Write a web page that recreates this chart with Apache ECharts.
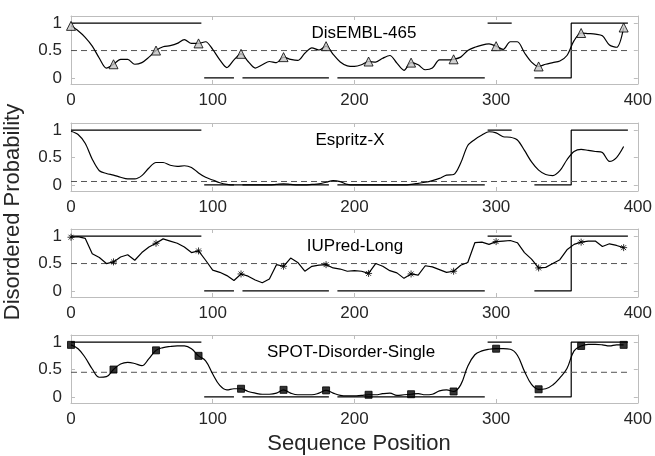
<!DOCTYPE html>
<html>
<head>
<meta charset="utf-8">
<script src="https://cdn.jsdelivr.net/npm/echarts@6/dist/echarts.min.js"></script>
<style>
  html, body { margin: 0; padding: 0; background: #fff; }
  #chart { width: 655px; height: 456px; }
</style>
</head>
<body>
<div id="chart"></div>
<script>
const positions = [0, 5, 10, 15, 20, 25, 30, 35, 40, 45, 50, 55, 60, 65, 70, 75, 80, 85, 90, 95,
  100, 105, 110, 115, 120, 125, 130, 135, 140, 145, 150, 155, 160, 165, 170, 175, 180, 185, 190, 195,
  200, 205, 210, 215, 220, 225, 230, 235, 240, 245, 250, 255, 260, 265, 270, 275, 280, 285, 290, 295,
  300, 305, 310, 315, 320, 325, 330, 335, 340, 345, 350, 355, 360, 365, 370, 375, 380, 385, 390];

const disemblProb = [0.95, 0.86, 0.74, 0.58, 0.36, 0.18, 0.25, 0.34, 0.34, 0.25,
  0.28, 0.38, 0.50, 0.57, 0.59, 0.63, 0.70, 0.63, 0.63, 0.66,
  0.52, 0.33, 0.19, 0.33, 0.44, 0.30, 0.18, 0.24, 0.30, 0.28,
  0.38, 0.34, 0.32, 0.45, 0.55, 0.51, 0.58, 0.43, 0.29, 0.22,
  0.21, 0.24, 0.30, 0.29, 0.36, 0.41, 0.27, 0.14, 0.28, 0.24,
  0.15, 0.18, 0.33, 0.33, 0.34, 0.38, 0.50, 0.56, 0.60, 0.62,
  0.58, 0.52, 0.66, 0.66, 0.46, 0.29, 0.21, 0.25, 0.28, 0.31,
  0.41, 0.68, 0.82, 0.81, 0.80, 0.77, 0.60, 0.56, 0.92];

const espritzProb = [0.98, 0.92, 0.76, 0.47, 0.26, 0.21, 0.18, 0.14, 0.11, 0.11,
  0.17, 0.31, 0.41, 0.41, 0.36, 0.34, 0.35, 0.32, 0.22, 0.14,
  0.09, 0.04, 0.01, 0.00, 0.00, 0.00, 0.00, 0.00, 0.00, 0.01,
  0.02, 0.01, 0.00, 0.00, 0.01, 0.02, 0.05, 0.08, 0.06, 0.01,
  0.00, 0.00, 0.00, 0.00, 0.00, 0.00, 0.00, 0.00, 0.01, 0.03,
  0.05, 0.08, 0.12, 0.18, 0.19, 0.40, 0.72, 0.83, 0.91, 0.97,
  0.95, 0.88, 0.87, 0.82, 0.63, 0.42, 0.27, 0.19, 0.17, 0.26,
  0.46, 0.61, 0.65, 0.63, 0.61, 0.59, 0.43, 0.50, 0.70];

const iupredProb = [0.98, 0.99, 0.96, 0.68, 0.61, 0.50, 0.53, 0.62, 0.66, 0.56,
  0.70, 0.80, 0.87, 0.95, 0.91, 0.87, 0.80, 0.70, 0.73, 0.56,
  0.38, 0.34, 0.28, 0.19, 0.31, 0.27, 0.20, 0.15, 0.22, 0.48,
  0.45, 0.60, 0.52, 0.36, 0.45, 0.47, 0.48, 0.42, 0.40, 0.36,
  0.37, 0.36, 0.32, 0.50, 0.45, 0.37, 0.33, 0.23, 0.31, 0.29,
  0.46, 0.44, 0.39, 0.34, 0.36, 0.47, 0.52, 0.88, 0.89, 0.85,
  0.90, 0.91, 0.92, 0.88, 0.70, 0.58, 0.42, 0.43, 0.50, 0.57,
  0.75, 0.85, 0.89, 0.91, 0.91, 0.81, 0.86, 0.83, 0.79];

const spotProb = [0.95, 0.88, 0.72, 0.51, 0.36, 0.37, 0.50, 0.60, 0.63, 0.61,
  0.57, 0.70, 0.85, 0.90, 0.92, 0.93, 0.93, 0.88, 0.75, 0.66,
  0.42, 0.21, 0.13, 0.15, 0.15, 0.10, 0.07, 0.05, 0.05, 0.07,
  0.13, 0.07, 0.04, 0.04, 0.04, 0.07, 0.12, 0.07, 0.03, 0.02,
  0.02, 0.03, 0.04, 0.04, 0.06, 0.07, 0.03, 0.04, 0.05, 0.06,
  0.04, 0.05, 0.11, 0.13, 0.10, 0.22, 0.56, 0.77, 0.84, 0.87,
  0.88, 0.88, 0.87, 0.76, 0.47, 0.23, 0.14, 0.15, 0.22, 0.35,
  0.52, 0.84, 0.93, 0.96, 0.96, 0.95, 0.93, 0.95, 0.95];

const predictorNames = ['DisEMBL-465', 'Espritz-X', 'IUPred-Long', 'SPOT-Disorder-Single'];
const thresholds = [0.5, 0.0634, 0.5, 0.45];

// true disorder annotation, '-' breaks the line
const trueX = [0, 92, '-', 94, 115, '-', 121, 182, '-', 188, 292, '-', 294, 311, '-', 327, 353, 353, 393];
const trueY = [1, 1, '-', 0, 0, '-', 0, 0, '-', 0, 0, '-', 1, 1, '-', 0, 0, 1, 1];

const xTicks = [0, 100, 200, 300, 400];
const yTicks = [0, 0.5, 1];
const markerStep = 30;
const thresholdEnd = 395;

const asterisk = 'path://M5 0L5 10M0 5L10 5M1.5 1.5L8.5 8.5M8.5 1.5L1.5 8.5';

const panels = [
  { values: disemblProb, smooth: 0.3, symbol: 'triangle', symbolSize: 9, fill: '#c4c4c4' },
  { values: espritzProb, smooth: 0.3, symbol: null },
  { values: iupredProb, smooth: false, symbol: asterisk, symbolSize: 7, fill: 'transparent' },
  { values: spotProb, smooth: 0.4, symbol: 'rect', symbolSize: 7, fill: '#000' }
];
const panelTops = [16, 123, 229, 335];
const panelHeight = 68;
const titleCenters = [364, 350, 355, 351];

const boxColor = '#bdbdbd';
const textColor = '#262626';
const fontFamily = '"Liberation Sans", Arial, Helvetica, sans-serif';

const chart = echarts.init(document.getElementById('chart'));

const grids = [];
const xAxes = [];
const yAxes = [];
const series = [];
const graphics = [];

panels.forEach((p, k) => {
  grids.push({ left: 71, right: 14, top: panelTops[k], height: panelHeight });

  ['bottom', 'top'].forEach((pos) => {
    xAxes.push({
      gridIndex: k,
      type: 'value',
      position: pos,
      min: 0,
      max: 400,
      interval: 100,
      axisLine: { show: true, onZero: false, lineStyle: { color: boxColor, width: 1 } },
      axisTick: { show: true, inside: true, length: 4, lineStyle: { color: boxColor } },
      axisLabel: {
        show: pos === 'bottom',
        color: textColor,
        fontSize: 17,
        fontFamily: fontFamily,
        margin: 8,
        customValues: xTicks
      },
      splitLine: { show: false }
    });
  });

  ['left', 'right'].forEach((pos) => {
    yAxes.push({
      gridIndex: k,
      type: 'value',
      position: pos,
      min: -0.11,
      max: 1.13,
      axisLine: { show: true, onZero: false, lineStyle: { color: boxColor, width: 1 } },
      axisTick: { show: true, inside: true, length: 4, lineStyle: { color: boxColor }, customValues: yTicks },
      axisLabel: {
        show: pos === 'left',
        color: textColor,
        fontSize: 17,
        fontFamily: fontFamily,
        margin: 9,
        customValues: yTicks
      },
      splitLine: { show: false }
    });
  });

  const curve = positions.map((x, i) => [x, p.values[i]]);

  series.push({
    type: 'line',
    xAxisIndex: 2 * k,
    yAxisIndex: 2 * k,
    data: trueX.map((x, i) => [x, trueY[i]]),
    showSymbol: false,
    lineStyle: { color: '#000', width: 1.2 },
    silent: true
  });

  series.push({
    type: 'line',
    xAxisIndex: 2 * k,
    yAxisIndex: 2 * k,
    data: [[0, thresholds[k]], [thresholdEnd, thresholds[k]]],
    showSymbol: false,
    lineStyle: { color: '#555', width: 1, type: [6, 4] },
    silent: true
  });

  series.push({
    type: 'line',
    xAxisIndex: 2 * k,
    yAxisIndex: 2 * k,
    data: curve,
    showSymbol: false,
    smooth: p.smooth,
    lineStyle: { color: '#000', width: 1.2 },
    silent: true
  });

  if (p.symbol) {
    series.push({
      type: 'scatter',
      xAxisIndex: 2 * k,
      yAxisIndex: 2 * k,
      data: curve.filter((d) => d[0] % markerStep === 0),
      symbol: p.symbol,
      symbolSize: p.symbolSize,
      itemStyle: { color: p.fill, borderColor: '#000', borderWidth: 1 },
      z: 5,
      silent: true
    });
  }

  graphics.push({
    type: 'text',
    x: titleCenters[k],
    y: panelTops[k] + 17,
    style: {
      text: predictorNames[k],
      fill: '#000',
      font: '17px ' + fontFamily,
      textAlign: 'center',
      textVerticalAlign: 'middle'
    }
  });
});

graphics.push({
  type: 'text',
  x: 359,
  y: 444,
  style: {
    text: 'Sequence Position',
    fill: textColor,
    font: '22px ' + fontFamily,
    textAlign: 'center',
    textVerticalAlign: 'middle'
  }
});

graphics.push({
  type: 'text',
  x: 13,
  y: 212,
  rotation: Math.PI / 2,
  style: {
    text: 'Disordered Probability',
    fill: textColor,
    font: '22px ' + fontFamily,
    textAlign: 'center',
    textVerticalAlign: 'middle'
  }
});

const option = {
  animation: false,
  backgroundColor: '#fff',
  grid: grids,
  xAxis: xAxes,
  yAxis: yAxes,
  series: series,
  graphic: graphics
};

chart.setOption(option);
</script>
</body>
</html>
